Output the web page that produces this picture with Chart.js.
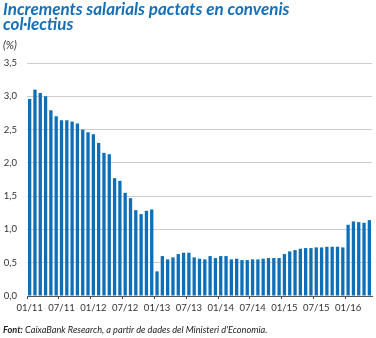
<!DOCTYPE html>
<html>
<head>
<meta charset="utf-8">
<script src="https://cdn.jsdelivr.net/npm/chart.js@4.4.1/dist/chart.umd.min.js"></script>
<style>
  body { margin: 0; background: #fff; }
  #wrap { position: relative; width: 376px; height: 338px; font-family: Lato, "Open Sans", sans-serif; }
  #incChart { position: absolute; left: 0; top: 0; }
  .title { position: absolute; left: 3px; top: 1px; color: #1670b8; font-weight: bold; font-style: italic; font-size: 17px; line-height: 15px; }
  .unit { position: absolute; left: 3px; top: 38px; font-style: italic; font-size: 11px; color: #333; }
  .src { position: absolute; left: 3px; top: 324px; font-style: italic; font-size: 9.2px; color: #222; }
</style>
</head>
<body>
<div id="wrap">
  <canvas id="incChart" width="376" height="338"></canvas>
  <div class="title">Increments salarials pactats en convenis<br>col·lectius</div>
  <div class="unit">(%)</div>
  <div class="src"><b>Font:</b> CaixaBank Research, a partir de dades del Ministeri d'Economia.</div>
</div>
<script>
let years = ['11', '12', '13', '14', '15', '16'];
let months = ['01', '02', '03', '04', '05', '06', '07', '08', '09', '10', '11', '12'];
// monthly increments, 01/11 .. 05/16
let increments = [
  2.96, 3.10, 3.05, 3.00, 2.79, 2.70, 2.64, 2.64, 2.62, 2.59, 2.50, 2.46,
  2.43, 2.30, 2.15, 2.13, 1.77, 1.73, 1.55, 1.47, 1.29, 1.23, 1.28, 1.30,
  0.37, 0.60, 0.55, 0.58, 0.63, 0.65, 0.65, 0.58, 0.56, 0.55, 0.60, 0.57,
  0.60, 0.60, 0.55, 0.56, 0.54, 0.54, 0.55, 0.55, 0.56, 0.57, 0.57, 0.57,
  0.63, 0.67, 0.69, 0.71, 0.72, 0.72, 0.73, 0.73, 0.74, 0.74, 0.74, 0.73,
  1.07, 1.12, 1.11, 1.10, 1.14
];

let labels = [];
years.forEach(y => months.forEach(m => labels.push(m + '/' + y)));
labels = labels.slice(0, increments.length);

let isMark = (i) => labels[i] && (labels[i].startsWith('01') || labels[i].startsWith('07'));

let ctx = document.getElementById('incChart').getContext('2d');
// eslint-disable-next-line no-unused-vars
let incChart = new Chart(ctx, {
  type: 'bar',
  data: {
    labels: labels,
    datasets: [{
      data: increments,
      backgroundColor: '#0e6fb7',
      barPercentage: 0.62,
      categoryPercentage: 1
    }]
  },
  options: {
    responsive: false,
    animation: false,
    layout: {
      padding: { top: 63, right: 4, bottom: 22, left: 0 }
    },
    plugins: {
      legend: { display: false },
      tooltip: { enabled: false }
    },
    scales: {
      x: {
        grid: {
          drawOnChartArea: false,
          tickLength: 3,
          tickColor: (c) => isMark(c.index) ? '#444' : 'rgba(0,0,0,0)'
        },
        border: { color: '#555', width: 1 },
        ticks: {
          autoSkip: false,
          maxRotation: 0,
          padding: 3,
          color: '#333',
          font: { family: 'Lato', size: 9.5 },
          callback: (v, i) => isMark(i) ? labels[i] : ''
        },
        afterFit: (s) => { s.height = 20; }
      },
      y: {
        min: 0,
        max: 3.5,
        grid: { color: '#cdcdcd', drawTicks: false },
        border: { display: false },
        ticks: {
          stepSize: 0.5,
          padding: 10,
          color: '#333',
          font: { family: 'Lato', size: 9.5 },
          callback: (v) => v.toFixed(1).replace('.', ',')
        },
        afterFit: (s) => { s.width = 27; }
      }
    }
  }
});
</script>
</body>
</html>
